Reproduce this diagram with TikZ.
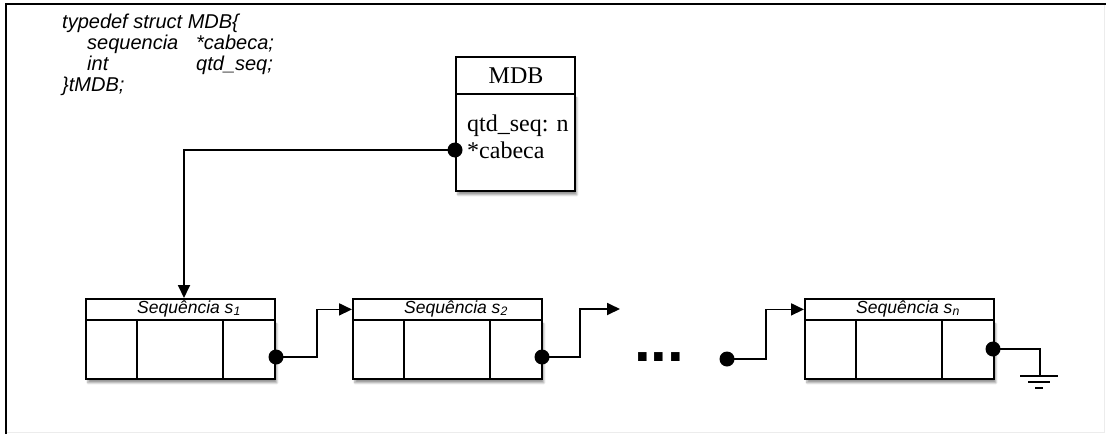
\documentclass[tikz,border=0pt]{standalone}
\usepackage{fontspec}
\setmainfont{Liberation Serif}
\setsansfont{Liberation Sans}
\usetikzlibrary{arrows.meta,shadows.blur}
\tikzset{
  ln/.style={line width=1.8pt, line join=miter},
  arr/.style={ln, -{Triangle[length=13pt,width=12pt]}},
  boxsh/.style={blur shadow={shadow xshift=2pt, shadow yshift=-4pt, shadow blur steps=6, shadow opacity=40}},
  hdr/.style={draw, ln, fill=white, minimum width=189pt, minimum height=21pt, inner sep=0pt, anchor=north west},
  bdy/.style={draw, ln, fill=white, minimum width=189pt, minimum height=59pt, inner sep=0pt, anchor=north west},
  dot/.style={circle, fill=black, inner sep=0pt, minimum size=15pt},
  hlabel/.style={font=\sffamily\itshape\fontsize{17.5}{17.5}\selectfont, inner sep=0pt},
  code/.style={font=\sffamily\itshape\fontsize{20}{21}\selectfont, inner sep=0pt, anchor=base west},
  mdbf/.style={font=\fontsize{24}{27}\selectfont, inner sep=0pt},
}
\begin{document}
\begin{tikzpicture}[x=1pt,y=-1pt]
\useasboundingbox (0,0) rectangle (1106,434);
% frame
\draw[gray!15, line width=1pt] (6,432) -- (1104,432) -- (1104,4);
\draw[line width=1.8pt] (6,434) -- (6,4) -- (1106,4);

% code
\node[code] (c1) at (62,28) {typedef struct MDB\{};
\node[code] (c2a) at (87,49) {sequencia};
\node[code] (c2b) at (196,49) {*cabeca;};
\node[code] (c3a) at (87,70) {int};
\node[code] (c3b) at (196,70) {qtd\_seq;};
\node[code] (c4) at (62,91) {\}tMDB;};

% MDB box
\node[draw, ln, fill=white, boxsh, minimum width=119pt, minimum height=97pt, anchor=north west, inner sep=0pt] (mdbb) at (455,93) {};
\node[draw, ln, fill=white, minimum width=119pt, minimum height=37pt, anchor=north west, inner sep=0pt] (mdbt) at (455,56) {};
\node[mdbf, anchor=base] (mdbl) at (516,83) {MDB};
\node[mdbf, anchor=base west] (q1) at (467,131) {qtd\_seq: n};
\node[mdbf, anchor=base west] (q2) at (467,158) {*cabeca};
\node[dot] (md) at (455,150) {};

% sequence boxes
\foreach \n/\x/\lab in {1/85/1, 2/352/2, n/804/n}{
  \node[bdy, boxsh] (s\n b) at (\x,319) {};
  \node[hdr] (s\n h) at (\x,298) {};
  \node[hlabel] (s\n l) at (\x+104,308.5) {Sequência \textit{s}\textsubscript{\lab}};
  \draw[ln] (\x+52,319) -- (\x+52,378);
  \draw[ln] (\x+138,319) -- (\x+138,378);
}

% dots
\node[dot] (d1) at (276,357) {};
\node[dot] (d2) at (542,357) {};
\node[dot] (d3) at (727,359) {};
\node[dot] (dn) at (993,349) {};

% ellipsis
\node[font=\sffamily\bfseries\fontsize{60}{60}\selectfont, inner sep=0pt, anchor=base] (ell) at (659,361) {...};

% connectors
\coordinate (s1in) at (184,298);
\draw[arr] (md.center) -| (s1in);
\draw[arr] (d1.center) -- ++(41,0) |- (s2h.west);
\coordinate (free) at (620,309);
\draw[arr] (d2.center) -- ++(38,0) |- (free);
\draw[arr] (d3.center) -- ++(39,0) |- (snh.west);
\coordinate (gnd) at (1040,376);
\draw[ln] (dn.center) -| (gnd);
\draw[ln] (1020,376) -- (1058,376);
\draw[ln] (1028,382) -- (1050,382);
\draw[ln] (1035,388) -- (1043,388);
\end{tikzpicture}
\end{document}
